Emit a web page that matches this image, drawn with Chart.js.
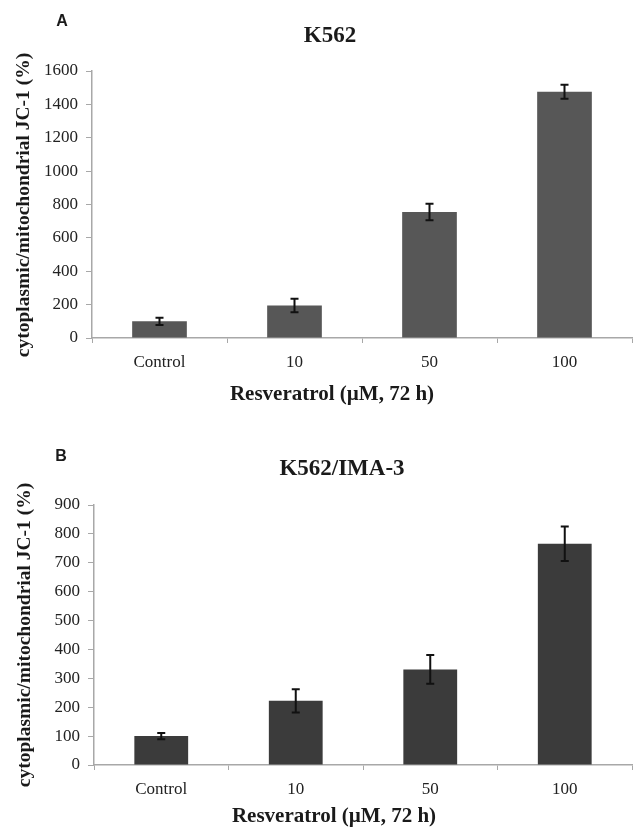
<!DOCTYPE html>
<html>
<head>
<meta charset="utf-8">
<script src="https://cdn.jsdelivr.net/npm/chart.js@4/dist/chart.umd.min.js"></script>
<style>
  body { margin: 0; background: #fff; }
  #page { position: relative; width: 636px; height: 829px; overflow: hidden; }
  canvas { position: absolute; left: 0; }
  .txt { position: absolute; transform: translate(-50%, -50%); white-space: nowrap; color: #1a1a1a; }
  .serif { font-family: 'Liberation Serif', 'Times New Roman', serif; font-weight: bold; }
  .letter { font-family: 'Liberation Sans', Arial, sans-serif; font-weight: bold; font-size: 16px; }
  .ytitle { font-size: 19.5px; transform: translate(-50%, -50%) rotate(-90deg); }
</style>
</head>
<body>
<div id="page">
  <canvas id="chartA" width="636" height="415" style="top:0"></canvas>
  <canvas id="chartB" width="636" height="414" style="top:415px"></canvas>

  <div class="txt letter" style="left:62px; top:21px">A</div>
  <div class="txt serif" style="left:330px; top:35px; font-size:23px">K562</div>
  <div class="txt serif ytitle" style="left:23px; top:205px">cytoplasmic/mitochondrial JC-1 (%)</div>
  <div class="txt serif" style="left:332px; top:393px; font-size:21px">Resveratrol (µM, 72 h)</div>

  <div class="txt letter" style="left:61px; top:456px">B</div>
  <div class="txt serif" style="left:342px; top:468px; font-size:23px">K562/IMA-3</div>
  <div class="txt serif ytitle" style="left:24px; top:635px">cytoplasmic/mitochondrial JC-1 (%)</div>
  <div class="txt serif" style="left:334px; top:815px; font-size:21px">Resveratrol (µM, 72 h)</div>
</div>
<script>
// data
const categories = ['Control', '10', '50', '100'];

const k562Means = [100, 195, 755, 1475];
const k562Errors = [22, 40, 50, 42];
const k562Max = 1600;
const k562Step = 200;

const imaMeans = [100, 222, 331, 766];
const imaErrors = [11, 40, 50, 60];
const imaMax = 900;
const imaStep = 100;

const axisColor = '#a8a8a8';

// error bars drawn through the y scale of each chart
const errorBars = {
  id: 'errorBars',
  afterDatasetsDraw(chart) {
    const ctx = chart.ctx;
    const yScale = chart.scales.y;
    const errs = chart.data.datasets[0].errors;
    const vals = chart.data.datasets[0].data;
    chart.getDatasetMeta(0).data.forEach((bar, i) => {
      const x = bar.x;
      const yTop = yScale.getPixelForValue(vals[i] + errs[i]);
      const yBot = yScale.getPixelForValue(vals[i] - errs[i]);
      ctx.save();
      ctx.strokeStyle = '#111';
      ctx.lineWidth = 2;
      ctx.beginPath();
      ctx.moveTo(x, yTop); ctx.lineTo(x, yBot);
      ctx.moveTo(x - 4, yTop); ctx.lineTo(x + 4, yTop);
      ctx.moveTo(x - 4, yBot); ctx.lineTo(x + 4, yBot);
      ctx.stroke();
      ctx.restore();
    });
  }
};

function makeChart(id, means, errors, color, yMax, yStep, padTop, leftWidth, xHeight, barPct) {
  const tickFont = { family: "'Liberation Serif', 'Times New Roman', serif", size: 17 };
  return new Chart(document.getElementById(id), {
    type: 'bar',
    data: {
      labels: categories,
      datasets: [{
        data: means,
        errors: errors,
        backgroundColor: color,
        categoryPercentage: 1,
        barPercentage: barPct
      }]
    },
    options: {
      responsive: false,
      animation: false,
      layout: { padding: { top: padTop, right: 4, left: 0, bottom: 0 } },
      plugins: {
        legend: { display: false },
        tooltip: { enabled: false },
        title: { display: false }
      },
      scales: {
        x: {
          grid: { drawOnChartArea: false, drawTicks: true, tickLength: 5, color: axisColor, offset: true },
          border: { display: true, color: axisColor, width: 1.5 },
          ticks: { color: '#222', font: tickFont, padding: 9, maxRotation: 0 },
          afterFit(s) { s.height = xHeight; }
        },
        y: {
          min: 0,
          max: yMax,
          grid: { drawOnChartArea: false, drawTicks: true, tickLength: 6, color: axisColor },
          border: { display: true, color: axisColor, width: 1.5 },
          ticks: { stepSize: yStep, color: '#222', font: tickFont, padding: 8, callback: v => String(v) },
          afterFit(s) { s.width = leftWidth; }
        }
      }
    },
    plugins: [errorBars]
  });
}

makeChart('chartA', k562Means, k562Errors, '#575757', k562Max, k562Step, 71, 92, 77, 0.405);
makeChart('chartB', imaMeans, imaErrors, '#3b3b3b', imaMax, imaStep, 90, 94, 64, 0.40);
</script>
</body>
</html>
